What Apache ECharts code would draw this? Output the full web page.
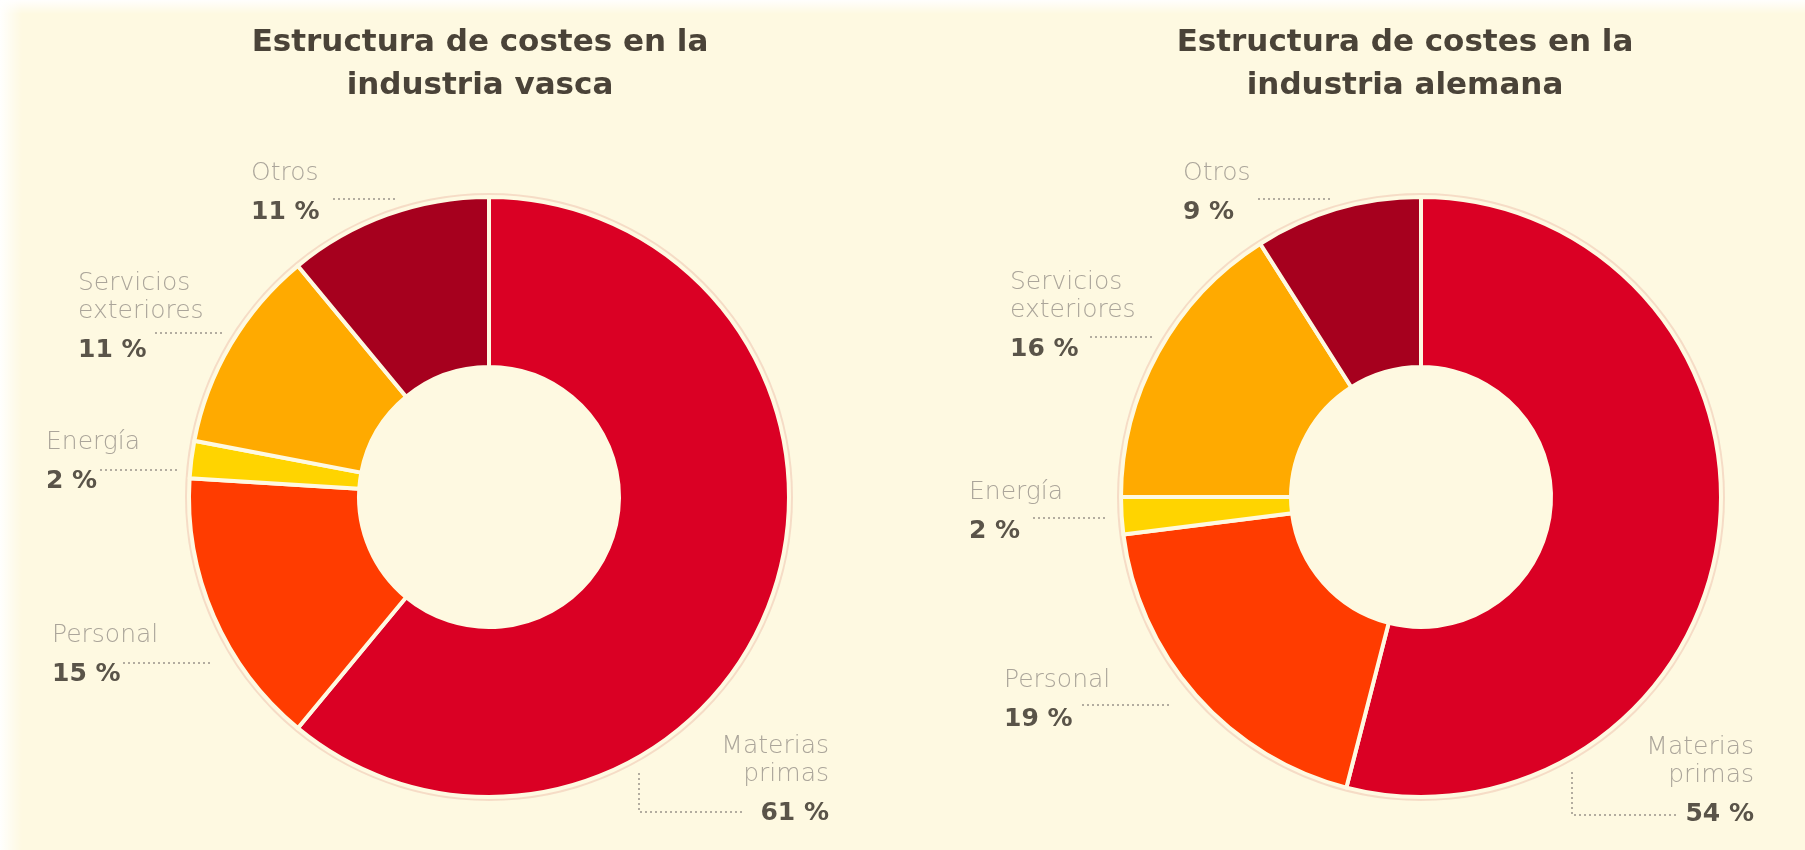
<!DOCTYPE html>
<html>
<head>
<meta charset="utf-8">
<script src="https://cdn.jsdelivr.net/npm/echarts@6/dist/echarts.min.js"></script>
<style>
  html, body { margin: 0; padding: 0; background: #FEF9E1; }
  #chart { width: 1805px; height: 850px; }
</style>
</head>
<body>
<div id="chart"></div>
<script>
// ---- data ----
const categories = ['Materias primas', 'Personal', 'Energía', 'Servicios exteriores', 'Otros'];
const labelNames = ['Materias\nprimas', 'Personal', 'Energía', 'Servicios\nexteriores', 'Otros'];
const vascaValues = [61, 15, 2, 11, 11];
const alemanaValues = [54, 19, 2, 16, 9];
const titles = ['Estructura de costes en la\nindustria vasca', 'Estructura de costes en la\nindustria alemana'];
const sliceColors = ['#DA0024', '#FF3C00', '#FFD400', '#FFAA00', '#A6001E'];

// ---- layout (label anchors and leader lines, pixels) ----
const leftLayout = [
  { x: 829, y: 732, align: 'right', line: [[639, 773], [639, 812], [745, 812]] },
  { x: 52, y: 621, align: 'left', line: [[123, 663], [170, 663], [212, 663]] },
  { x: 46, y: 428, align: 'left', line: [[100, 470], [140, 470], [179, 470]] },
  { x: 78, y: 269, align: 'left', line: [[155, 333], [190, 333], [224, 333]] },
  { x: 251, y: 159, align: 'left', line: [[333, 199], [365, 199], [396, 199]] }
];
const rightLayout = [
  { x: 1754, y: 733, align: 'right', line: [[1572, 772], [1572, 815], [1679, 815]] },
  { x: 1004, y: 666, align: 'left', line: [[1082, 705], [1125, 705], [1171, 705]] },
  { x: 969, y: 478, align: 'left', line: [[1033, 518], [1070, 518], [1105, 518]] },
  { x: 1010, y: 268, align: 'left', line: [[1090, 337], [1120, 337], [1154, 337]] },
  { x: 1183, y: 159, align: 'left', line: [[1258, 199], [1295, 199], [1333, 199]] }
];

const BG = '#FEF9E1';
const NAME_COLOR = '#ABA59A';
const VALUE_COLOR = '#5A5449';

function buildData(values, layout) {
  return categories.map((c, i) => ({
    name: c,
    value: values[i],
    itemStyle: { color: sliceColors[i] },
    label: { align: layout[i].align }
  }));
}

function pieSeries(values, layout, center) {
  return {
    type: 'pie',
    center: center,
    radius: [130, 300],
    startAngle: 90,
    clockwise: true,
    avoidLabelOverlap: false,
    silent: true,
    z: 3,
    itemStyle: { borderColor: BG, borderWidth: 4 },
    label: {
      show: true,
      position: 'outside',
      formatter: p => '{n|' + labelNames[p.dataIndex] + '}\n{v|' + p.value + ' %}',
      rich: {
        n: { fontFamily: 'DejaVu Sans', fontWeight: 200, fontSize: 25, lineHeight: 28, color: NAME_COLOR },
        v: { fontFamily: 'DejaVu Sans', fontWeight: 'bold', fontSize: 25, lineHeight: 50, color: VALUE_COLOR }
      }
    },
    labelLine: {
      show: true,
      lineStyle: { color: '#9A948A', width: 1.5, type: [2, 3] }
    },
    labelLayout: function (params) {
      const L = layout[params.dataIndex];
      return {
        x: L.x,
        y: L.y,
        align: L.align,
        verticalAlign: 'top',
        labelLinePoints: L.line
      };
    },
    emphasis: { disabled: true },
    data: buildData(values, layout)
  };
}

function haloSeries(center) {
  return {
    type: 'pie',
    center: center,
    radius: [298, 304],
    silent: true,
    z: 1,
    label: { show: false },
    labelLine: { show: false },
    itemStyle: { color: 'rgba(238,196,176,0.55)' },
    emphasis: { disabled: true },
    data: [{ value: 1, name: '' }]
  };
}

const titleStyle = { fontFamily: 'DejaVu Sans', fontWeight: 'bold', fontSize: 31, lineHeight: 43, color: '#4A4338' };

const chart = echarts.init(document.getElementById('chart'), null, { renderer: 'canvas' });
chart.setOption({
  backgroundColor: BG,
  animation: false,
  title: [
    { text: titles[0], left: 475, top: 16, textAlign: 'center', textStyle: titleStyle },
    { text: titles[1], left: 1400, top: 16, textAlign: 'center', textStyle: titleStyle }
  ],
  graphic: [
    {
      type: 'rect', silent: true, z: 0,
      shape: { x: 0, y: 0, width: 1805, height: 14 },
      style: { fill: new echarts.graphic.LinearGradient(0, 0, 0, 1, [
        { offset: 0, color: 'rgba(255,255,255,0.95)' }, { offset: 1, color: 'rgba(255,255,255,0)' }]) }
    },
    {
      type: 'rect', silent: true, z: 0,
      shape: { x: 0, y: 0, width: 22, height: 850 },
      style: { fill: new echarts.graphic.LinearGradient(0, 0, 1, 0, [
        { offset: 0, color: 'rgba(255,255,255,0.95)' }, { offset: 1, color: 'rgba(255,255,255,0)' }]) }
    }
  ],
  series: [
    haloSeries([489, 497]),
    haloSeries([1421, 497]),
    pieSeries(vascaValues, leftLayout, [489, 497]),
    pieSeries(alemanaValues, rightLayout, [1421, 497])
  ]
});
</script>
</body>
</html>
